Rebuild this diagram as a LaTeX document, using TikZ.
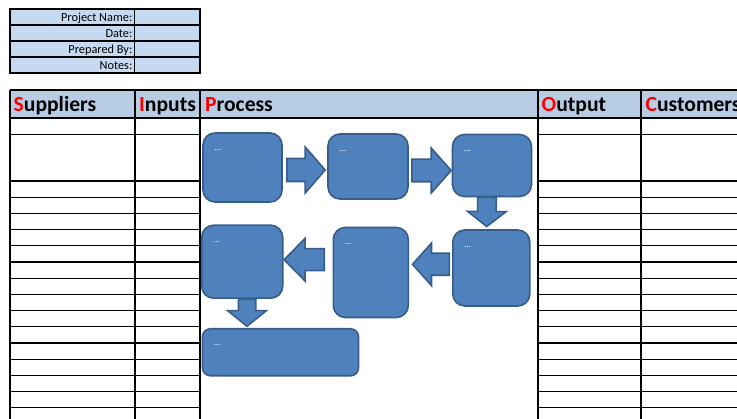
\documentclass[tikz,border=0pt]{standalone}
\usepackage{fontspec}
\setmainfont{Carlito}
\usetikzlibrary{calc}

\definecolor{boxfill}{HTML}{4F81BD}
\definecolor{boxline}{HTML}{385D8A}
\definecolor{hdrblue}{HTML}{B8CCE4}
\definecolor{infoblue}{HTML}{C5D9F1}
\definecolor{letterred}{HTML}{FF0000}

% block arrow: from, to, shaft half width, head half width, head length
\newcommand{\blockarrow}[5]{%
\path (#1) coordinate (ba-s) (#2) coordinate (ba-t);
\path ($(ba-t)!#5!(ba-s)$) coordinate (ba-h);
\filldraw[procarrow] ($(ba-s)!#3!-90:(ba-t)$) -- ($(ba-h)!#3!90:(ba-s)$) -- ($(ba-h)!#4!90:(ba-s)$) -- (ba-t) -- ($(ba-h)!#4!-90:(ba-s)$) -- ($(ba-h)!#3!-90:(ba-s)$) -- ($(ba-s)!#3!90:(ba-t)$) -- cycle;}

\begin{document}
\begin{tikzpicture}[x=1pt,y=-1pt,grid/.style={line width=1.3pt, black},procbox/.style={draw=boxline, fill=boxfill, line width=1.6pt, rounded corners=12pt, inner sep=0pt},procarrow/.style={draw=boxline, fill=boxfill, line width=1.6pt, line join=miter},dots/.style={anchor=base west, inner sep=0pt, text=white, font=\fontsize{9}{10}\selectfont},hdr/.style={anchor=base west, inner sep=0pt, font=\bfseries\fontsize{21.6}{25}\selectfont},infolabel/.style={anchor=base east, inner sep=0pt, font=\fontsize{12.3}{14}\selectfont}]
\useasboundingbox (0,0) rectangle (737,419);
\clip (0,0) rectangle (737,419);
% project info block
\fill[infoblue] (10,9) rectangle (200,73);
\foreach \y in {25,41,57} \draw[grid] (10,\y) -- (200,\y);
\draw[grid] (10,9) rectangle (200,73);\draw[grid] (134.5,9) -- (134.5,73);
\foreach \t [count=\i] in {Project Name:,Date:,Prepared By:,Notes:} \node[infolabel] (info\i) at (132.5,5.5+16*\i) {\t};
% SIPOC table
\fill[hdrblue] (10,90) rectangle (737,118);
\draw[grid] (10,90) -- (737,90);\draw[grid] (10,118) -- (737,118);
\foreach \y in {134.3,181} {\draw[grid] (10,\y) -- (200,\y);\draw[grid] (538,\y) -- (737,\y);}
\foreach \k in {1,...,14} {\draw[grid] (10,181+16.2*\k) -- (200,181+16.2*\k);\draw[grid] (538,181+16.2*\k) -- (737,181+16.2*\k);}
\foreach \x in {10,135,200,538,641} \draw[grid] (\x,90) -- (\x,419);
\node[hdr] (hS) at (13.5,111.5) {\textcolor{letterred}{S}uppliers};
\node[hdr] (hI) at (139,111.5) {\textcolor{letterred}{I}nputs};
\node[hdr] (hP) at (205,111.5) {\textcolor{letterred}{P}rocess};
\node[hdr] (hO) at (541.5,111.5) {\textcolor{letterred}{O}utput};
\node[hdr] (hC) at (645.5,111.5) {\textcolor{letterred}{C}ustomers};
% process steps
\node[procbox, minimum width=79pt, minimum height=69pt] (b1) at (242.5,167.5) {};
\node[procbox, minimum width=80pt, minimum height=65pt] (b2) at (368,166.5) {};
\node[procbox, minimum width=79pt, minimum height=62pt] (b3) at (492,165.5) {};
\node[procbox, minimum width=77pt, minimum height=76pt] (b4) at (491.3,268) {};
\node[procbox, minimum width=75pt, minimum height=90pt] (b5) at (370.8,272.5) {};
\node[procbox, minimum width=81pt, minimum height=73pt] (b6) at (242.2,261.7) {};
\node[procbox, minimum width=156pt, minimum height=47pt, rounded corners=8pt] (b7) at (280.5,352.3) {};
\foreach \b in {b1,b2,b3,b4,b5,b6,b7} \node[dots] (\b-t) at ($(\b.north west)+(12,18)$) {...};
\blockarrow{$(b1.east)+(4,2.5)$}{$(b2.west)+(-2,3.5)$}{11.5pt}{23pt}{20pt}
\blockarrow{$(b2.east)+(3,4)$}{$(b3.west)+(-0.5,5)$}{11.3pt}{22.5pt}{20pt}
\blockarrow{$(b3.south)+(-5,0)$}{$(b4.north)+(-4.6,-2.7)$}{9.3pt}{19.3pt}{15pt}
\blockarrow{$(b4.west)+(-2.7,-3.7)$}{$(b5.east)+(3.4,-8.2)$}{11pt}{21.3pt}{19pt}
\blockarrow{$(b5.west)+(-8.3,-12.8)$}{$(b6.east)+(0.6,-2)$}{11pt}{21.3pt}{21pt}
\blockarrow{$(b6.south)+(4.8,0)$}{$(b6.south |- b7.north)+(4.8,-1.7)$}{8.7pt}{19.3pt}{15.6pt}
\end{tikzpicture}
\end{document}
